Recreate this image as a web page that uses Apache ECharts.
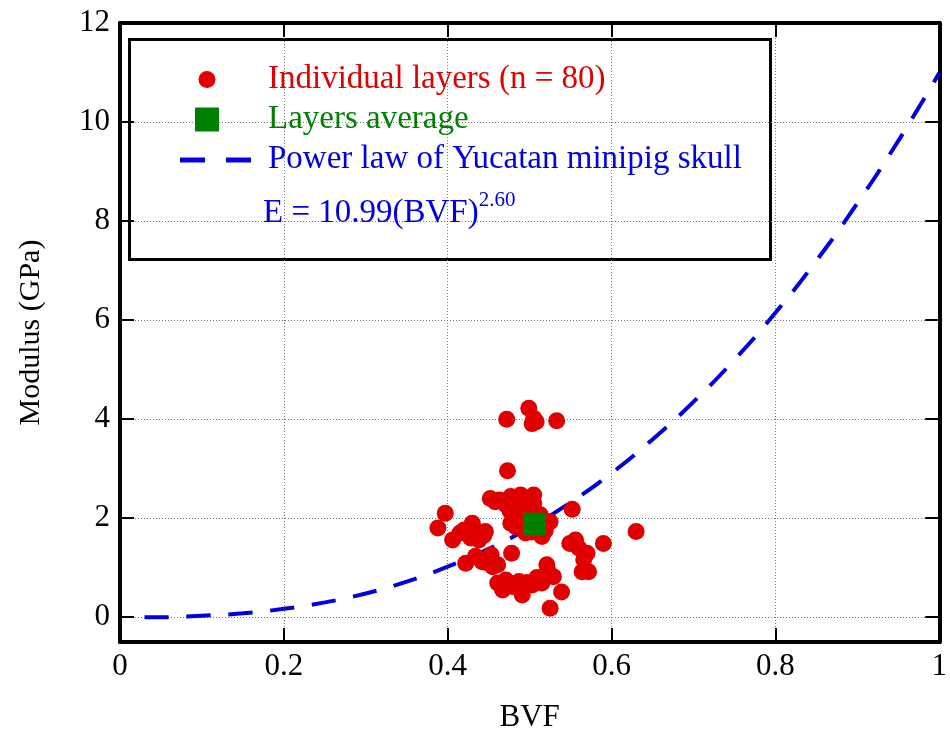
<!DOCTYPE html>
<html>
<head>
<meta charset="utf-8">
<script src="https://cdn.jsdelivr.net/npm/echarts@6/dist/echarts.min.js"></script>
<style>
  html, body { margin: 0; padding: 0; background: #fff; }
  #chart { width: 950px; height: 746px; }
</style>
</head>
<body>
<div id="chart"></div>
<script>
// individual layers
var layerBVF = [
  0.499, 0.472, 0.505, 0.508, 0.503, 0.533, 0.473, 0.452, 0.463, 0.477,
  0.489, 0.505, 0.471, 0.487, 0.499, 0.481, 0.483, 0.495, 0.515, 0.525,
  0.513, 0.552, 0.630, 0.397, 0.388, 0.406, 0.430, 0.420, 0.446, 0.438,
  0.428, 0.556, 0.549, 0.590, 0.570, 0.566, 0.572, 0.564, 0.478, 0.453,
  0.442, 0.422, 0.461, 0.434, 0.521, 0.529, 0.515, 0.503, 0.487, 0.471,
  0.461, 0.467, 0.491, 0.539, 0.525, 0.479, 0.458, 0.493, 0.476, 0.477,
  0.489, 0.502, 0.519, 0.435, 0.444, 0.415, 0.448, 0.455, 0.509, 0.497,
  0.475, 0.522, 0.560, 0.505
];
var layerModulus = [
  4.22, 4.00, 4.02, 3.95, 3.91, 3.97, 2.96, 2.40, 2.37, 2.44,
  2.47, 2.47, 2.27, 2.24, 2.20, 2.03, 1.83, 1.70, 1.63, 1.93,
  2.07, 2.18, 1.73, 2.10, 1.80, 1.56, 1.90, 1.76, 1.73, 1.56,
  1.60, 1.56, 1.49, 1.49, 1.29, 1.16, 0.92, 0.92, 1.29, 1.26,
  1.12, 1.09, 1.06, 1.23, 1.06, 0.82, 0.69, 0.65, 0.72, 0.75,
  0.69, 0.55, 0.45, 0.51, 0.18, 0.62, 2.33, 2.35, 2.15, 1.90,
  1.95, 1.72, 1.75, 1.73, 1.65, 1.70, 1.10, 1.02, 0.80, 0.70,
  0.68, 0.95, 1.40, 2.30
];
// layers average
var avgBVF = [0.506];
var avgModulus = [1.88];
// power-law curve, points
var curveBVF = [0.03, 0.05, 0.10, 0.15, 0.20, 0.25, 0.30, 0.35, 0.40, 0.45, 0.50,
                0.55, 0.60, 0.65, 0.70, 0.75, 0.80, 0.85, 0.90, 0.95, 1.00];
var curveModulus = [0.00, 0.00, 0.03, 0.08, 0.17, 0.30, 0.48, 0.72, 1.02, 1.38, 1.81,
                    2.32, 2.91, 3.59, 4.35, 5.20, 6.15, 7.20, 8.36, 9.62, 10.99];
var xTicks = [0, 0.2, 0.4, 0.6, 0.8, 1];

function zip(a, b) {
  return a.map(function (v, i) { return [v, b[i]]; });
}

var font = 'Liberation Serif, Times New Roman, serif';
var chart = echarts.init(document.getElementById('chart'));

var tick = { show: true, inside: true, length: 14, lineStyle: { color: '#000', width: 2 } };
var frame = { show: true, onZero: false, lineStyle: { color: '#000', width: 4 } };
var grid = { show: true, lineStyle: { color: '#777', width: 1, type: [1, 2] } };

// legend icons all share a 71x24 box (the corner moves fix the box)
var dotIcon = 'path://M0,0M71,24M18.5,12a8.5,8.5 0 1,0 17,0a8.5,8.5 0 1,0 -17,0Z';
var squareIcon = 'path://M0,0M71,24M15,0H39V24H15Z';
var dashIcon = 'path://M0,0M71,24M0,10h25v5h-25zM46,10h25v5h-25z';

chart.setOption({
  animation: false,
  backgroundColor: '#fff',
  grid: { left: 120, right: 7, top: 23, bottom: 104 },
  xAxis: [{
    type: 'value', min: 0, max: 1, interval: 0.2, position: 'bottom',
    name: 'BVF', nameLocation: 'middle', nameGap: 60,
    nameTextStyle: { fontFamily: font, fontSize: 31, color: '#000' },
    axisLine: frame, axisTick: tick, splitLine: grid,
    axisLabel: { fontFamily: font, fontSize: 31, color: '#000', margin: 9,
      formatter: function (v) { return xTicks.indexOf(+v.toFixed(1)) >= 0 ? String(+v.toFixed(1)) : ''; } }
  }, {
    type: 'value', min: 0, max: 1, interval: 0.2, position: 'top',
    axisLine: frame, axisTick: tick, splitLine: { show: false }, axisLabel: { show: false }
  }],
  yAxis: [{
    type: 'value', min: -0.5, max: 12, splitNumber: 6, position: 'left',
    name: 'Modulus (GPa)', nameLocation: 'middle', nameGap: 74,
    nameTextStyle: { fontFamily: font, fontSize: 30, color: '#000' },
    axisLine: frame, axisTick: tick, splitLine: grid,
    axisLabel: { fontFamily: font, fontSize: 31, color: '#000', margin: 10,
      formatter: function (v) { return v < 0 ? '' : String(v); } }
  }, {
    type: 'value', min: -0.5, max: 12, splitNumber: 6, position: 'right',
    axisLine: frame, axisTick: tick, splitLine: { show: false }, axisLabel: { show: false }
  }],
  legend: {
    orient: 'vertical', left: 175, top: 58,
    itemWidth: 71, itemHeight: 24, itemGap: 7,
    textStyle: { fontFamily: font, fontSize: 33, padding: [0, 0, 0, 12] },
    data: [
      { name: 'Individual layers (n = 80)', icon: dotIcon, textStyle: { color: '#e00000' } },
      { name: 'Layers average', icon: squareIcon, textStyle: { color: '#008000' } },
      { name: 'Power law of Yucatan minipig skull', icon: dashIcon, textStyle: { color: '#0000e0' } }
    ]
  },
  graphic: [{
    type: 'rect', left: 128, top: 38, z: 0,
    shape: { width: 641, height: 220 },
    style: { fill: '#fff', stroke: '#000', lineWidth: 3 }
  }, {
    type: 'text', left: 263, top: 190, z: 10,
    style: {
      text: 'E = 10.99(BVF){sup|2.60}',
      font: '33px ' + font, fill: '#0000e0',
      rich: { sup: { fontFamily: font, fontSize: 21, fill: '#0000e0', padding: [0, 0, 26, 0] } }
    }
  }],
  series: [{
    name: 'Power law of Yucatan minipig skull',
    type: 'line', smooth: true, symbol: 'none', z: 2,
    data: zip(curveBVF, curveModulus),
    lineStyle: { color: '#0000e0', width: 4, type: [24, 18] },
    itemStyle: { color: '#0000e0' }
  }, {
    name: 'Individual layers (n = 80)',
    type: 'scatter', symbol: 'circle', symbolSize: 17, z: 3,
    data: zip(layerBVF, layerModulus),
    itemStyle: { color: '#e00000', opacity: 1 }
  }, {
    name: 'Layers average',
    type: 'scatter', symbol: 'rect', symbolSize: 23, z: 4,
    data: zip(avgBVF, avgModulus),
    itemStyle: { color: '#008000', opacity: 1 }
  }]
});
</script>
</body>
</html>
